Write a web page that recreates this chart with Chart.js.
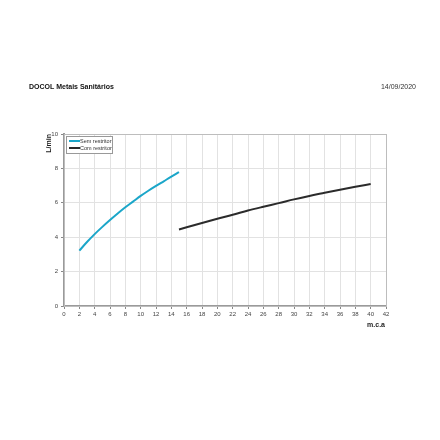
<!DOCTYPE html>
<html>
<head>
<meta charset="utf-8">
<script src="https://cdn.jsdelivr.net/npm/chart.js@4.4.0/dist/chart.umd.min.js"></script>
<style>
  html, body { margin: 0; padding: 0; background: #fff; }
  canvas { display: block; }
</style>
</head>
<body>
<canvas id="grafico" width="440" height="440"></canvas>
<script>
const semX = [2, 3, 4, 5, 6, 7, 8, 9, 10, 11, 12, 13, 14, 15]
const semY = [3.22, 3.72, 4.18, 4.6, 5.0, 5.38, 5.74, 6.07, 6.4, 6.7, 6.98, 7.25, 7.52, 7.78]
const comX = [15, 16, 18, 20, 22, 24, 26, 28, 30, 32, 34, 36, 38, 40]
const comY = [4.45, 4.58, 4.83, 5.07, 5.3, 5.55, 5.77, 5.98, 6.2, 6.4, 6.58, 6.76, 6.93, 7.09]
const nomes = ['Sem restritor', 'Com restritor']
const cores = ['#1ba6c9', '#2b2b2b']

const fonte = '"Liberation Sans", Arial, sans-serif'

function pontos(xs, ys) {
    return xs.map((x, i) => ({ x: x, y: ys[i] }))
}

// textos, moldura e legenda desenhados a mao
const extras = {
    id: 'extras',
    beforeDatasetsDraw(chart) {
        const ctx = chart.ctx
        const a = chart.chartArea
        ctx.save()
        ctx.strokeStyle = '#bdbdbd'
        ctx.lineWidth = 1
        ctx.strokeRect(a.left + 0.5, a.top + 0.5, a.right - a.left, a.bottom - a.top)
        ctx.restore()
    },
    afterDraw(chart) {
        const ctx = chart.ctx
        ctx.save()
        ctx.fillStyle = '#111'
        ctx.font = 'bold 7px ' + fonte
        ctx.textBaseline = 'middle'
        ctx.textAlign = 'left'
        ctx.fillText('DOCOL Metais Sanitários', 29, 87)
        ctx.font = '7px ' + fonte
        ctx.fillStyle = '#333'
        ctx.textAlign = 'right'
        ctx.fillText('14/09/2020', 416, 87)

        ctx.font = 'bold 7px ' + fonte
        ctx.fillStyle = '#222'
        ctx.textAlign = 'right'
        ctx.fillText('m.c.a', 385, 325)

        ctx.translate(49, 134)
        ctx.rotate(-Math.PI / 2)
        ctx.textAlign = 'right'
        ctx.fillText('L/min', 0, 0)
        ctx.restore()

        // legenda
        ctx.save()
        ctx.fillStyle = '#fff'
        ctx.fillRect(66, 136, 46, 17)
        ctx.strokeStyle = '#999'
        ctx.lineWidth = 1
        ctx.strokeRect(66.5, 136.5, 46, 17)
        ctx.font = '5.5px ' + fonte
        ctx.textBaseline = 'middle'
        ctx.textAlign = 'left'
        chart.data.datasets.forEach((ds, i) => {
            const y = 141 + i * 7
            ctx.strokeStyle = ds.borderColor
            ctx.lineWidth = 2
            ctx.beginPath()
            ctx.moveTo(69, y)
            ctx.lineTo(80, y)
            ctx.stroke()
            ctx.fillStyle = '#333'
            ctx.fillText(ds.label, 80, y)
        })
        ctx.restore()
    }
}

const dadosGrafico = {
    datasets: [{
        label: nomes[0],
        data: pontos(semX, semY),
        borderColor: cores[0],
        backgroundColor: cores[0],
        borderWidth: 2,
        pointRadius: 0,
        cubicInterpolationMode: 'monotone'
    }, {
        label: nomes[1],
        data: pontos(comX, comY),
        borderColor: cores[1],
        backgroundColor: cores[1],
        borderWidth: 2,
        pointRadius: 0,
        cubicInterpolationMode: 'monotone'
    }]
}

const myChart = new Chart(document.getElementById('grafico'), {
    type: 'line',
    data: dadosGrafico,
    options: {
        responsive: false,
        animation: false,
        layout: { padding: { left: 0, top: 134, right: 54, bottom: 0 } },
        plugins: { legend: { display: false }, tooltip: { enabled: false } },
        scales: {
            x: {
                type: 'linear',
                min: 0,
                max: 42,
                afterFit(s) { s.height = 134 },
                ticks: { stepSize: 2, color: '#444', font: { size: 6, family: fonte }, padding: 2, maxRotation: 0, autoSkip: false },
                grid: { color: '#e2e2e2', tickColor: '#888', tickLength: 3 },
                border: { color: '#9a9a9a', width: 2 }
            },
            y: {
                min: 0,
                max: 10,
                afterFit(s) { s.width = 64 },
                ticks: { stepSize: 2, color: '#444', font: { size: 6, family: fonte }, padding: 3 },
                grid: { color: '#e2e2e2', tickColor: '#888', tickLength: 3 },
                border: { color: '#9a9a9a', width: 2 }
            }
        }
    },
    plugins: [extras]
})
</script>
</body>
</html>
